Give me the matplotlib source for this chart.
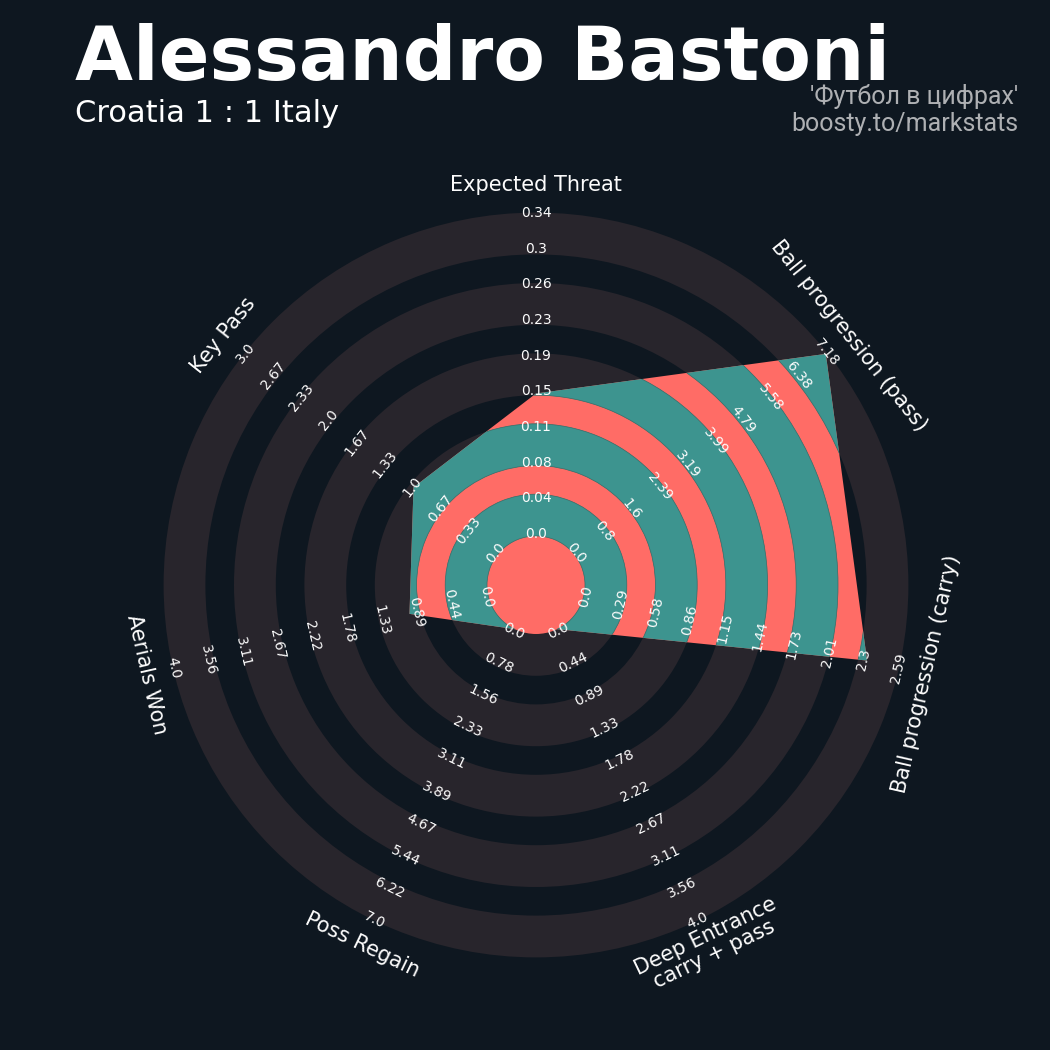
import numpy as np
import matplotlib.pyplot as plt
from matplotlib.patches import Circle, Wedge, Polygon

params = ["Expected Threat", "Ball progression (pass)", "Ball progression (carry)",
          "Deep Entrance\ncarry + pass", "Poss Regain", "Aerials Won", "Key Pass"]
min_range = [0, 0, 0, 0, 0, 0, 0]
max_range = [0.34, 7.18, 2.59, 4.0, 7.0, 4.0, 3.0]
values = [0.15, 7.15, 2.33, 0.0, 0.0, 1.0, 1.0]

title = "Alessandro Bastoni"
subtitle = "Croatia 1 : 1 Italy"
credit_lines = ["'Футбол в цифрах'", "boosty.to/markstats"]

BG = "#0e1720"
RING_BG = "#28252c"
TEAL = "#3d948f"
RED = "#ff6c66"

# radar geometry (units ~ pixels)
R_CENTER = 49
R_MAX = 372
PERIOD = 70.4
WIDE = 41.8
N_WIDE = 5
N_LABELS = 10

fig = plt.figure(figsize=(10.5, 10.5), dpi=100, facecolor=BG)
ax = fig.add_axes([96 / 1050, 25 / 1050, 880 / 1050, 880 / 1050])
ax.set_xlim(-440, 440)
ax.set_ylim(-440, 440)
ax.set_aspect("equal")
ax.axis("off")

n = len(params)
theta = np.arange(n) * 2 * np.pi / n  # clockwise from top


def to_radius(v, lo, hi):
    return R_CENTER + (v - lo) / (hi - lo) * (R_MAX - R_CENTER)


# background rings
ax.add_patch(Circle((0, 0), R_CENTER, facecolor=RING_BG, zorder=1))
for k in range(N_WIDE):
    r_in = R_CENTER + k * PERIOD
    ax.add_patch(Wedge((0, 0), r_in + WIDE, 0, 360, width=WIDE,
                       facecolor=RING_BG, edgecolor="none", zorder=1))

# radar polygon
radii = [to_radius(v, lo, hi) for v, lo, hi in zip(values, min_range, max_range)]
verts = np.column_stack([np.array(radii) * np.sin(theta), np.array(radii) * np.cos(theta)])
poly = Polygon(verts, closed=True, facecolor=RED, edgecolor="none", zorder=2)
ax.add_patch(poly)
ax.add_patch(Circle((0, 0), R_CENTER, facecolor=RED, edgecolor="none", zorder=2))
for k in range(N_WIDE):
    r_in = R_CENTER + k * PERIOD
    w = Wedge((0, 0), r_in + WIDE, 0, 360, width=WIDE,
              facecolor=TEAL, edgecolor="#2f6f6b", linewidth=0.5, zorder=3)
    ax.add_patch(w)
    w.set_clip_path(poly)

# range labels and param labels
label_r = np.linspace(R_CENTER + 2, R_MAX, N_LABELS)
for i in range(n):
    deg = np.rad2deg(theta[i])
    rot = -deg
    if 90 < deg < 270:
        rot += 180
    s, c = np.sin(theta[i]), np.cos(theta[i])
    vals = np.linspace(min_range[i], max_range[i], N_LABELS)
    for r, v in zip(label_r, vals):
        ax.text(r * s, r * c, f"{float(round(v, 2))}", rotation=rot,
                rotation_mode="anchor", ha="center", va="center",
                color="#fcfcfc", fontsize=10, zorder=5)
    ax.text(400 * s, 400 * c, params[i], rotation=rot, rotation_mode="anchor",
            ha="center", va="center", color="#fcfcfc", fontsize=15,
            linespacing=1.0, zorder=5)

# titles
fig.text(75 / 1050, 1 - 80 / 1050, title, color="white", fontsize=54,
         fontweight="bold", ha="left", va="baseline")
fig.text(75 / 1050, 1 - 122 / 1050, subtitle, color="white", fontsize=22,
         ha="left", va="baseline")
fig.text(1018 / 1050, 1 - 104 / 1050, credit_lines[0], color="#aeb0b3", fontsize=18,
         family=["Roboto", "DejaVu Sans"], ha="right", va="baseline")
fig.text(1018 / 1050, 1 - 131 / 1050, credit_lines[1], color="#aeb0b3", fontsize=18,
         family=["Roboto", "DejaVu Sans"], ha="right", va="baseline")

fig.savefig("out.png", dpi=100, facecolor=BG)
